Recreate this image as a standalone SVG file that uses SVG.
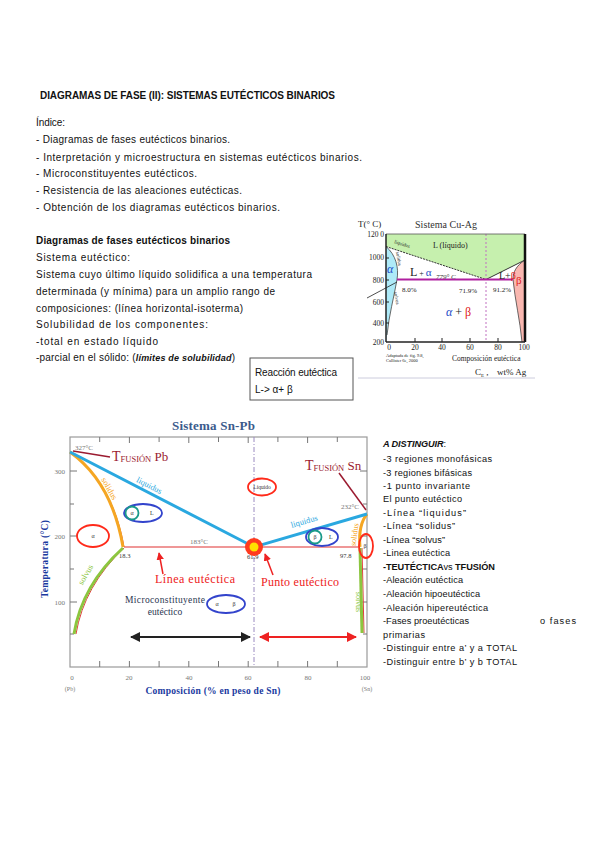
<svg xmlns="http://www.w3.org/2000/svg" width="599" height="848" viewBox="0 0 599 848">
<style>
.t{font-family:"Liberation Sans",Arial,sans-serif;font-size:10px;fill:#111}
.b{font-weight:bold}
.r{font-family:"Liberation Sans",Arial,sans-serif;font-size:9.2px;fill:#111}
.s{font-family:"Liberation Serif","Times New Roman",serif}
.ax{stroke:#9a9a9a;stroke-width:1.2;fill:none}
.tk{stroke:#777;stroke-width:1}
.lab{font-family:"Liberation Serif",serif;font-size:7px;fill:#777}
.el{fill:none;stroke-width:1.8}
</style>
<defs>
<marker id="ah" viewBox="0 0 10 10" refX="9" refY="5" markerWidth="5" markerHeight="5" orient="auto-start-reverse"><path d="M0,0L10,5L0,10z" fill="#222"/></marker>
<marker id="ahr" viewBox="0 0 10 10" refX="9" refY="5" markerWidth="5" markerHeight="5" orient="auto-start-reverse"><path d="M0,0L10,5L0,10z" fill="#ee2222"/></marker>
</defs>
<rect width="599" height="848" fill="#fff"/>

<g id="intro">
<text class="t b" x="40" y="99" font-size="10.5" textLength="295">DIAGRAMAS DE FASE (II): SISTEMAS EUTÉCTICOS BINARIOS</text>
<text class="t" x="36" y="126" textLength="29">Índice:</text>
<text class="t" x="36" y="143" textLength="194">- Diagramas de fases eutécticos binarios.</text>
<text class="t" x="36" y="161" textLength="326">- Interpretación y microestructura en sistemas eutécticos binarios.</text>
<text class="t" x="36" y="177" textLength="161">- Microconstituyentes eutécticos.</text>
<text class="t" x="36" y="194" textLength="206">- Resistencia de las aleaciones eutécticas.</text>
<text class="t" x="36" y="211" textLength="244">- Obtención de los diagramas eutécticos binarios.</text>
</g>

<g id="definicion">
<text class="t b" x="36" y="244" textLength="194">Diagramas de fases eutécticos binarios</text>
<text class="t" x="36" y="261" textLength="94">Sistema eutéctico:</text>
<text class="t" x="36" y="278" textLength="276">Sistema cuyo último líquido solidifica a una temperatura</text>
<text class="t" x="36" y="295" textLength="239">determinada (y mínima) para un amplio rango de</text>
<text class="t" x="36" y="312" textLength="207">composiciones: (línea horizontal-isoterma)</text>
<text class="t" x="36" y="328" textLength="172">Solubilidad de los componentes:</text>
<text class="t" x="36" y="345" textLength="122">-total en estado líquido</text>
<text class="t" x="36" y="361" textLength="199">-parcial en el sólido: (<tspan font-weight="bold" font-style="italic" font-size="9">límites de solubilidad</tspan>)</text>
</g>

<g id="reaccion">
<rect x="250" y="358" width="103" height="42" fill="#fff" stroke="#555" stroke-width="1"/>
<text class="t" x="255" y="376" font-size="9.5" textLength="82">Reacción eutéctica</text>
<text class="t" x="255" y="393" font-size="9.5">L-&gt; α+  β</text>
</g>

<g id="cuag">
<path d="M386,234H525V260L486,279.5L386,246.5Z" fill="#c6f0ae"/>
<path d="M386,246.5C396,255 399,268 397,279.5C394,297 389,315 387,335L386,342Z" fill="#aeeaf8"/>
<path d="M525,260C516,266 513,272 513,279.5C515,300 520,320 522,342H525Z" fill="#f9b7b0"/>
<path d="M386,246.5L486,279.5" stroke="#333" stroke-width="1" stroke-dasharray="2,1" fill="none"/>
<path d="M486,279.5L525,260" stroke="#333" stroke-width="1" fill="none"/>
<path d="M386,246.5C396,255 399,268 397,279.5C394,297 389,315 387,335" stroke="#444" stroke-width="0.8" fill="none"/>
<path d="M525,260C516,266 513,272 513,279.5C515,300 520,320 522,342" stroke="#444" stroke-width="0.8" fill="none"/>
<line x1="486" y1="234" x2="486" y2="342" stroke="#c070c0" stroke-width="1" stroke-dasharray="2,2"/>
<line x1="397" y1="279.5" x2="513" y2="279.5" stroke="#b020a0" stroke-width="2"/>
<line x1="386" y1="234" x2="525" y2="234" stroke="#555" stroke-width="0.8"/>
<line x1="386" y1="234" x2="386" y2="342" stroke="#222" stroke-width="1.5"/>
<line x1="525" y1="234" x2="525" y2="342" stroke="#111" stroke-width="2.5"/>
<line x1="386" y1="342" x2="525" y2="342" stroke="#222" stroke-width="1.5"/>
<path d="M386,258h3M386,280h3M386,302h3M386,323h3M415,342v-4M442,342v-4M470,342v-4M498,342v-4" stroke="#222" stroke-width="1"/>
<line x1="367" y1="298" x2="397" y2="282" stroke="#222" stroke-width="0.8"/>
<text class="s" x="358" y="227" font-size="9" fill="#222">T(°  C)</text>
<text class="s" x="415" y="228" font-size="10" fill="#333" textLength="62">Sistema Cu-Ag</text>
<g class="s" font-size="7.5" fill="#222" text-anchor="end">
<text x="384" y="237">120 0</text><text x="384" y="260">1000</text><text x="384" y="283">800</text><text x="384" y="305">600</text><text x="384" y="326">400</text><text x="384" y="345">200</text>
</g>
<g class="s" font-size="7.5" fill="#222" text-anchor="middle">
<text x="389" y="350">0</text><text x="415" y="350">20</text><text x="442" y="350">40</text><text x="470" y="350">60</text><text x="498" y="350">80</text><text x="524" y="350">100</text>
</g>
<text class="s" x="433" y="248" font-size="8" fill="#222">L (líquido)</text>
<text class="s" font-size="5" fill="#222" transform="translate(394,243) rotate(18)">liquidus</text>
<text class="s" x="410" y="276" font-size="12" fill="#222">L<tspan font-size="8"> + </tspan><tspan fill="#1a4ac8" font-size="11">α</tspan></text>
<text class="s" x="436" y="279" font-size="7" font-style="italic" fill="#333">779° C</text>
<text class="s" x="387" y="273" font-size="12" font-style="italic" fill="#1a4ac8">α</text>
<text class="s" font-size="5" fill="#222" transform="translate(396,252) rotate(80)">solidus</text>
<text class="s" font-size="5" fill="#222" transform="translate(394,292) rotate(80)">solvus</text>
<text class="s" x="402" y="292" font-size="7" fill="#222">8.0%</text>
<text class="s" x="459" y="293" font-size="7" fill="#222">71.9%</text>
<text class="s" x="493" y="292" font-size="7" fill="#222">91.2%</text>
<text class="s" x="499" y="279" font-size="10" fill="#222">L+<tspan fill="#e02020">β</tspan></text>
<text class="s" x="516" y="284" font-size="11" fill="#e02020">β</text>
<text class="s" x="446" y="316" font-size="12" fill="#222"><tspan fill="#1a4ac8" font-style="italic">α</tspan> + <tspan fill="#e02020">β</tspan></text>
<text class="s" x="386" y="357" font-size="4.5" fill="#222">Adaptada de fig. 9.8,</text>
<text class="s" x="386" y="362" font-size="4.5" fill="#222">Callister 6e, 2000</text>
<text class="s" x="452" y="361" font-size="7.5" fill="#222">Composición eutéctica</text>
<text class="s" x="475" y="375" font-size="9" fill="#222">C<tspan font-size="5" dy="2">E</tspan><tspan dy="-2"> ,</tspan><tspan x="497">wt% Ag</tspan></text>
<line x1="358" y1="378" x2="535" y2="378" stroke="#ccd" stroke-width="1"/>
</g>

<g id="snpb">
<text class="s" x="172" y="430" font-size="13" font-weight="bold" fill="#3b5b8c" textLength="83">Sistema Sn-Pb</text>
<rect class="ax" x="70" y="437" width="297" height="230"/>
<path class="tk" d="M70,471h7M70,504h4M70,536h7M70,569h4M70,602h7M70,634h4M367,471h-7M367,504h-4M367,536h-7M367,569h-4M367,602h-7M367,634h-4M99.7,437v5M129.4,437v6M159.1,437v5M188.8,437v6M218.5,437v5M248.2,437v6M277.9,437v5M307.6,437v6M337.3,437v5M99.7,667v-6M129.4,667v-6M159.1,667v-6M188.8,667v-6M218.5,667v-6M248.2,667v-6M277.9,667v-6M307.6,667v-6M337.3,667v-6"/>
<g class="lab" text-anchor="end"><text x="65" y="474">300</text><text x="65" y="539">200</text><text x="65" y="605">100</text></g>
<g class="lab" text-anchor="middle"><text x="72" y="680">0</text><text x="129" y="680">20</text><text x="189" y="680">40</text><text x="248" y="680">60</text><text x="308" y="680">80</text><text x="365" y="680">100</text>
<text x="70" y="691" font-size="6">(Pb)</text><text x="367" y="691" font-size="6">(Sn)</text></g>
<text class="s" x="213" y="694" font-size="9.5" font-weight="bold" fill="#1a3aa0" text-anchor="middle" textLength="135">Composición (% en peso de Sn)</text>
<text class="s" font-size="9.5" font-weight="bold" fill="#1a3aa0" text-anchor="middle" transform="translate(48,559) rotate(-90)" textLength="78">Temperatura (°C)</text>

<line x1="254" y1="437" x2="254" y2="667" stroke="#9a8ac0" stroke-width="1" stroke-dasharray="5,2,1,2"/>
<line x1="124" y1="547" x2="360" y2="547" stroke="#e03030" stroke-width="1.2"/>
<path d="M71,453C96,471 116,501 124,547" fill="none" stroke="#e04040" stroke-width="1"/>
<path d="M70,452C95,470 115,500 123,547" fill="none" stroke="#f5a623" stroke-width="3"/>
<path d="M124,548Q84,586 76,634" fill="none" stroke="#e04040" stroke-width="1"/>
<path d="M123,548Q82,585 74,634" fill="none" stroke="#8cc63f" stroke-width="3"/>
<path d="M367,514Q358,525 360,547" fill="none" stroke="#f5a623" stroke-width="3"/>
<path d="M362,548L364,633" fill="none" stroke="#e04040" stroke-width="1"/>
<path d="M360,548L362,633" fill="none" stroke="#8cc63f" stroke-width="3"/>
<path d="M70,452L254,547L367,514" fill="none" stroke="#2aa8e0" stroke-width="3"/>

<text class="lab" x="75" y="450" font-size="6">327°C</text>
<text class="lab" x="190" y="544" font-size="6">183°C</text>
<text class="lab" x="341" y="509" font-size="6">232°C</text>
<text class="s" x="119" y="558" font-size="6.5" fill="#333">18.3</text>
<text class="s" x="247" y="559" font-size="6.5" fill="#333">61.9</text>
<text class="s" x="340" y="558" font-size="6.5" fill="#333">97.8</text>

<text class="s" fill="#2aa8e0" font-size="8.5" text-anchor="middle" transform="translate(148,488) rotate(27)">liquidus</text>
<text class="s" fill="#2aa8e0" font-size="8.5" text-anchor="middle" transform="translate(305,524) rotate(-16)">liquidus</text>
<text class="s" fill="#f5a623" font-size="8.5" text-anchor="middle" transform="translate(107,490) rotate(60)">solidus</text>
<text class="s" fill="#f5a623" font-size="8" text-anchor="middle" transform="translate(357,535) rotate(-82)">solidus</text>
<text class="s" fill="#8cc63f" font-size="8.5" text-anchor="middle" transform="translate(88,576) rotate(-60)">solvus</text>
<text class="s" fill="#8cc63f" font-size="8" text-anchor="middle" transform="translate(356,602) rotate(90)">solvus</text>

<circle cx="254" cy="547" r="9" fill="#ff3b1f"/>
<circle cx="254" cy="547" r="4.5" fill="#ffe000"/>
</g>

<g id="tfusion-pb">
<line x1="73" y1="451" x2="110" y2="457" stroke="#9b1b30" stroke-width="1.5"/>
<text class="s" x="112" y="461" font-size="14" fill="#9b1b30">T<tspan font-size="8.5" dy="1">FUSIÓN</tspan><tspan font-size="13" dy="-1"> Pb</tspan></text>
</g>
<g id="tfusion-sn">
<line x1="339" y1="473" x2="366" y2="510" stroke="#9b1b30" stroke-width="1.5"/>
<text class="s" x="305" y="470" font-size="14" fill="#9b1b30">T<tspan font-size="8.5" dy="1">FUSIÓN</tspan><tspan font-size="13" dy="-1"> Sn</tspan></text>
</g>

<g id="region-alpha">
<ellipse class="el" cx="93" cy="536" rx="16" ry="11" stroke="#ff2a1a"/>
<text class="s" x="93" y="538" font-size="6" fill="#333" text-anchor="middle">α</text>
</g>
<g id="region-alpha-l">
<ellipse class="el" cx="143" cy="513" rx="19" ry="9" stroke="#3344cc"/>
<circle class="el" cx="132" cy="513" r="6.5" stroke="#1a9a8a"/>
<text class="s" x="132" y="515" font-size="6" fill="#333" text-anchor="middle">α</text>
<text class="s" x="150" y="515" font-size="6" fill="#333">L</text>
</g>
<g id="region-liquido">
<ellipse class="el" cx="262" cy="487" rx="14" ry="8.5" stroke="#ff2a1a"/>
<text class="s" x="262" y="489" font-size="5.5" fill="#333" text-anchor="middle">Líquido</text>
</g>
<g id="region-beta-l">
<ellipse class="el" cx="322" cy="537" rx="16" ry="9" stroke="#3344cc"/>
<circle class="el" cx="315" cy="537" r="6.5" stroke="#1a9a8a"/>
<text class="s" x="315" y="539" font-size="6" fill="#333" text-anchor="middle">β</text>
<text class="s" x="329" y="539" font-size="6" fill="#333">L</text>
</g>
<g id="region-beta">
<ellipse class="el" cx="366" cy="546" rx="7" ry="12" stroke="#ff2a1a"/>
<text class="s" x="365" y="548" font-size="6" fill="#333" text-anchor="middle">β</text>
</g>
<g id="microconstituyente">
<text class="s" x="125" y="603" font-size="9.5" fill="#2a3550" textLength="80">Microconstituyente</text>
<text class="s" x="165" y="615" font-size="9.5" fill="#2a3550" text-anchor="middle">eutéctico</text>
<ellipse class="el" cx="226" cy="604" rx="19" ry="9" stroke="#3344cc"/>
<text class="s" x="217" y="606" font-size="6" fill="#333" text-anchor="middle">α</text>
<text class="s" x="234" y="606" font-size="6" fill="#333" text-anchor="middle">β</text>
</g>
<g id="linea-eutectica">
<text class="s" x="155" y="583" font-size="12" fill="#ee2222" textLength="80">Línea eutéctica</text>
</g>
<g id="punto-eutectico">
<text class="s" x="261" y="586" font-size="12" fill="#ee2222" textLength="78">Punto eutéctico</text>
</g>

<g id="connectors">
<line x1="163" y1="574" x2="159" y2="553" stroke="#ee2222" stroke-width="1.5" marker-end="url(#ahr)"/>
<line x1="273" y1="575" x2="265" y2="554" stroke="#ee2222" stroke-width="1.5" marker-end="url(#ahr)"/>
<line x1="131" y1="637" x2="250" y2="637" stroke="#222" stroke-width="2" marker-start="url(#ah)" marker-end="url(#ah)"/>
<line x1="260" y1="637" x2="356" y2="637" stroke="#ee2222" stroke-width="2" marker-start="url(#ahr)" marker-end="url(#ahr)"/>
</g>

<g id="distinguir">
<text class="r" x="383" y="447" font-weight="bold" font-style="italic" textLength="63">A DISTINGUIR<tspan font-weight="normal" font-style="normal">:</tspan></text>
<text class="r" x="383" y="462" textLength="109">-3 regiones monofásicas</text>
<text class="r" x="383" y="476" textLength="89">-3 regiones bifásicas</text>
<text class="r" x="383" y="489" textLength="87">-1 punto invariante</text>
<text class="r" x="383" y="502" textLength="79">El punto eutéctico</text>
<text class="r" x="383" y="516" textLength="83">-Línea “liquidus”</text>
<text class="r" x="383" y="529" textLength="72">-Línea “solidus”</text>
<text class="r" x="383" y="543" textLength="62">-Línea “solvus”</text>
<text class="r" x="383" y="556" textLength="67">-Linea eutéctica</text>
<text class="r" x="383" y="570" textLength="112"><tspan font-weight="bold">-TEUTÉCTICA</tspan>vs <tspan font-weight="bold">TFUSIÓN</tspan></text>
<text class="r" x="383" y="583" textLength="80">-Aleación eutéctica</text>
<text class="r" x="383" y="597" textLength="97">-Aleación hipoeutéctica</text>
<text class="r" x="383" y="611" textLength="105">-Aleación hipereutéctica</text>
<text class="r" x="383" y="624" textLength="86">-Fases proeutécticas</text>
<text class="r" x="540" y="624" textLength="36">o fases</text>
<text class="r" x="383" y="638" textLength="42">primarias</text>
<text class="r" x="383" y="651" textLength="134">-Distinguir entre a’ y a TOTAL</text>
<text class="r" x="383" y="665" textLength="134">-Distinguir entre b’ y b TOTAL</text>
</g>
</svg>
